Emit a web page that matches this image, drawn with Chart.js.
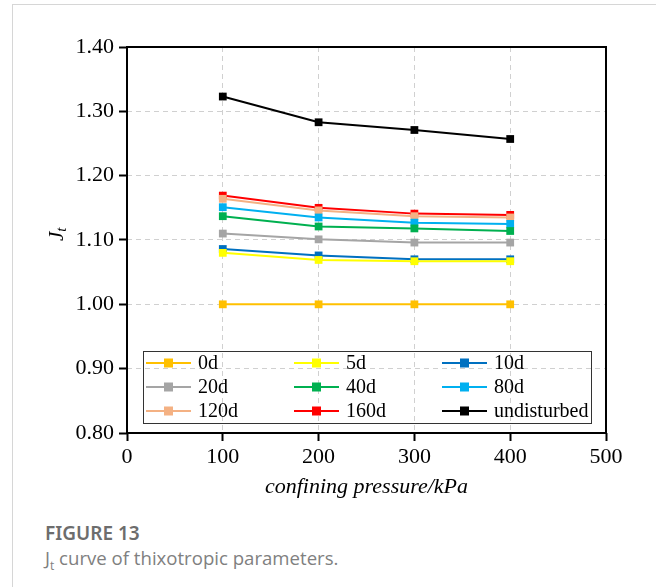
<!DOCTYPE html>
<html>
<head>
<meta charset="utf-8">
<script src="https://cdn.jsdelivr.net/npm/chart.js@4/dist/chart.umd.min.js"></script>
<style>
  body { margin: 0; background: #fff; width: 656px; height: 587px; overflow: hidden; position: relative; }
  #frame { position: absolute; left: 12px; top: 4px; right: -2px; bottom: -2px; border-top: 1px solid #d6d6d6; border-left: 1px solid #d6d6d6; }
  #wrap { position: absolute; left: 0; top: 0; width: 656px; height: 500px; }
  #fig { position: absolute; left: 45px; top: 520px; font-family: "Noto Sans", sans-serif; font-weight: 600; font-size: 19px; color: #6d6d6d; }
  #cap { position: absolute; left: 45px; top: 545px; font-family: "Open Sans", sans-serif; font-size: 18.6px; color: #808080; }
  #cap sub { font-size: 12px; }
</style>
</head>
<body>
<div id="frame"></div>
<div id="wrap"><canvas id="jt"></canvas></div>
<div id="fig">FIGURE 13</div>
<div id="cap">J<sub>t</sub> curve of thixotropic parameters.</div>
<script>
var pressures = [100, 200, 300, 400];
var labels = ["0d", "5d", "10d", "20d", "40d", "80d", "120d", "160d", "undisturbed"];
var colors = ["#FFC000", "#FFFF00", "#0070C0", "#A5A5A5", "#00B050", "#00B0F0", "#F4B183", "#FF0000", "#000000"];

var j0d = [1.000, 1.000, 1.000, 1.000];
var j5d = [1.080, 1.069, 1.067, 1.067];
var j10d = [1.086, 1.076, 1.070, 1.070];
var j20d = [1.110, 1.101, 1.096, 1.096];
var j40d = [1.137, 1.121, 1.118, 1.114];
var j80d = [1.151, 1.135, 1.127, 1.125];
var j120d = [1.164, 1.146, 1.137, 1.135];
var j160d = [1.169, 1.150, 1.141, 1.139];
var jUnd = [1.323, 1.283, 1.271, 1.257];

var series = [j0d, j5d, j10d, j20d, j40d, j80d, j120d, j160d, jUnd];

var serif = "'Liberation Serif', 'Times New Roman', serif";

var datasets = series.map(function (s, i) {
  return {
    label: labels[i],
    data: s.map(function (v, k) { return { x: pressures[k], y: v }; }),
    borderColor: colors[i],
    backgroundColor: colors[i],
    borderWidth: 2,
    pointStyle: "rect",
    pointRadius: 5.5,
    pointBorderWidth: 0,
    fill: false,
    tension: 0,
  };
});

// box around plot, legend inside the plot, y title with subscript
var extras = {
  id: "extras",
  afterDatasetsDraw: function (chart) {
    var ctx = chart.ctx;
    var ca = chart.chartArea;
    ctx.save();
    ctx.strokeStyle = "#000";
    ctx.lineWidth = 2;
    ctx.strokeRect(ca.left, ca.top, ca.right - ca.left, ca.bottom - ca.top);

    // legend box
    var lx = ca.left + 16, ly = ca.bottom - 82, lw = 448, lh = 72;
    ctx.lineWidth = 1;
    ctx.strokeStyle = "#333";
    ctx.strokeRect(lx + 0.5, ly + 0.5, lw, lh);
    ctx.font = "20px " + serif;
    ctx.textBaseline = "middle";
    ctx.fillStyle = "#000";
    for (var i = 0; i < labels.length; i++) {
      var col = i % 3, row = Math.floor(i / 3);
      var x0 = lx + 3 + col * 148;
      var y0 = ly + 12 + row * 24;
      ctx.strokeStyle = colors[i];
      ctx.lineWidth = 2;
      ctx.beginPath();
      ctx.moveTo(x0, y0);
      ctx.lineTo(x0 + 45, y0);
      ctx.stroke();
      ctx.fillStyle = colors[i];
      ctx.fillRect(x0 + 18, y0 - 4.5, 9, 9);
      ctx.fillStyle = "#000";
      ctx.fillText(labels[i], x0 + 52, y0 + 1);
    }

    // y title J_t
    ctx.translate(57, 233);
    ctx.rotate(-Math.PI / 2);
    ctx.textBaseline = "alphabetic";
    ctx.textAlign = "left";
    ctx.font = "italic 21px " + serif;
    var wj = ctx.measureText("J").width;
    ctx.fillText("J", -8, 6);
    ctx.font = "italic 15px " + serif;
    ctx.fillText("t", -8 + wj, 9);
    ctx.restore();
  },
};

new Chart(document.getElementById("jt"), {
  type: "line",
  data: { datasets: datasets },
  options: {
    responsive: true,
    maintainAspectRatio: false,
    animation: false,
    layout: { padding: { left: 0, top: 47, right: 50, bottom: 0 } },
    plugins: {
      legend: { display: false },
      tooltip: { enabled: false },
    },
    scales: {
      x: {
        type: "linear",
        min: 0,
        max: 500,
        afterFit: function (s) { s.height = 67; },
        ticks: { stepSize: 100, color: "#000", font: { family: serif, size: 22 }, padding: 3 },
        grid: { color: "#d0d0d0", lineWidth: 1, tickColor: "#000", tickWidth: 2, tickLength: 8 },
        border: { display: false, dash: [5, 4] },
        title: {
          display: true,
          text: "confining pressure/kPa",
          color: "#000",
          font: { family: serif, size: 22, style: "italic" },
          padding: { top: 0, bottom: 0 },
        },
      },
      y: {
        min: 0.8,
        max: 1.4,
        afterFit: function (s) { s.width = 127; },
        ticks: {
          stepSize: 0.1,
          color: "#000",
          font: { family: serif, size: 22 },
          padding: 5,
          callback: function (v) { return v.toFixed(2); },
        },
        grid: { color: "#d0d0d0", lineWidth: 1, tickColor: "#000", tickWidth: 2, tickLength: 8 },
        border: { display: false, dash: [5, 4] },
      },
    },
  },
  plugins: [extras],
});
</script>
</body>
</html>
